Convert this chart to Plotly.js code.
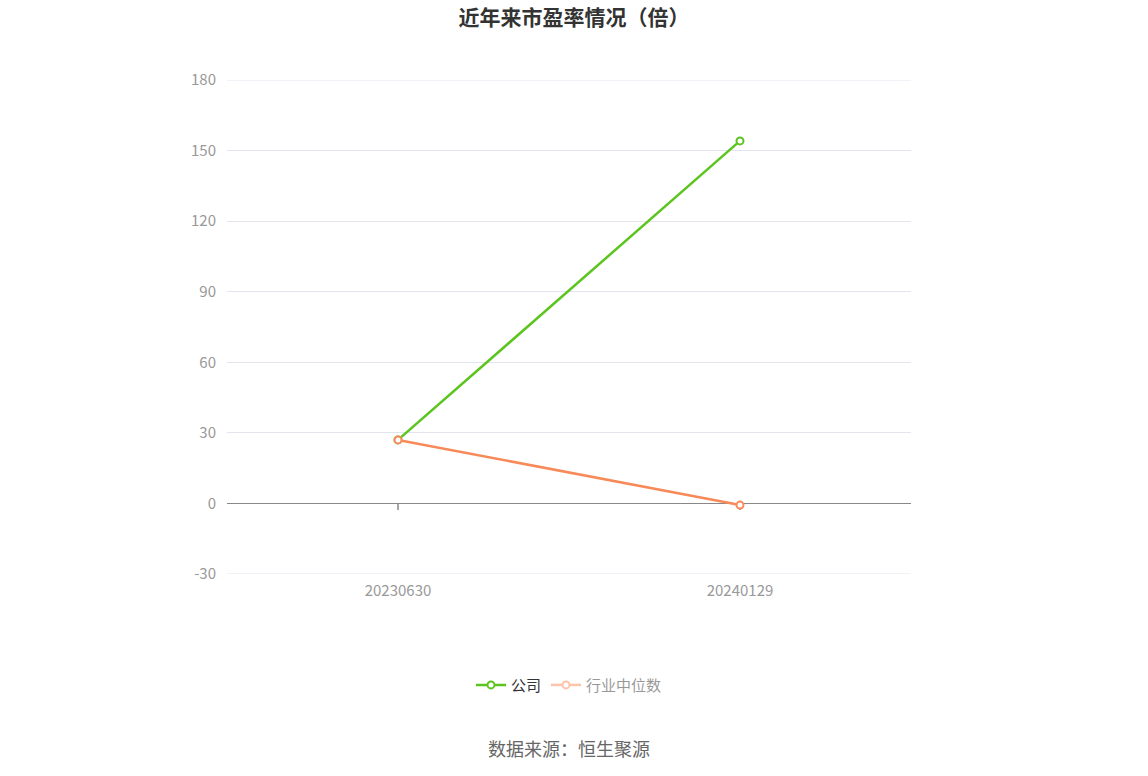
<!DOCTYPE html>
<html>
<head>
<meta charset="utf-8">
<script src="https://cdn.plot.ly/plotly-3.0.1.min.js"></script>
<style>
  body { margin: 0; background: #fff; }
  #chart { width: 1148px; height: 776px; }
</style>
</head>
<body>
<div id="chart"></div>
<script>
const dates = ["20230630", "20240129"];
const companyPE = [27.0, 154.1];
const industryPE = [27.0, -0.7];
const yTicks = [-30, 0, 30, 60, 90, 120, 150, 180];
const yTickText = ["-30", "0", "30", "60", "90", "120", "150", "180"];
const yMin = -30;
const yMax = 180;

const green = "#5cc41f";
const orange = "#f88a59";
const gridColor = "#e2e5ef";
const font = "'Noto Sans CJK SC', 'Noto Sans', sans-serif";

function lineTrace(name, y, color, extra) {
  return Object.assign({
    type: "scatter",
    mode: "lines+markers",
    name: name,
    x: dates,
    y: y,
    line: { color: color, width: 2.5 },
    marker: { symbol: "circle", size: 7, color: "#fff", line: { color: color, width: 2 } },
    hoverinfo: "x+y+name",
  }, extra || {});
}

const traces = [
  lineTrace("公司", companyPE, green, { legendrank: 1 }),
  lineTrace("行业中位数", industryPE, orange, { showlegend: false }),
  // faded legend entry, as in the original
  lineTrace("行业中位数", industryPE, orange, { visible: "legendonly", legendrank: 2 }),
];

// small tick marks hanging under the zero line at each category
// (numeric-looking category names get read as indices, so pass the index)
const tickShapes = dates.map((d, i) => ({
  type: "line",
  xref: "x",
  yref: "y",
  x0: i,
  x1: i,
  y0: 0,
  y1: -2.8,
  line: { color: "#777", width: 1.3 },
  layer: "below",
}));

// grid lines on the range edges, which plotly leaves out
const edgeGrid = [yMin, yMax].map((v) => ({
  type: "line",
  xref: "paper",
  yref: "y",
  x0: 0,
  x1: 1,
  y0: v,
  y1: v,
  line: { color: gridColor, width: 1 },
  layer: "below",
}));

const layout = {
  width: 1148,
  height: 776,
  margin: { l: 227, r: 237, t: 80, b: 202 },
  paper_bgcolor: "#fff",
  plot_bgcolor: "#fff",
  font: { family: font },
  title: {
    text: "<b>近年来市盈率情况（倍）</b>",
    x: 0.5,
    xanchor: "center",
    y: 0.977,
    yanchor: "middle",
    font: { size: 21, color: "#333", family: font },
  },
  xaxis: {
    type: "category",
    range: [-0.5, 1.5],
    showgrid: false,
    zeroline: false,
    showline: false,
    ticks: "",
    tickfont: { size: 15, color: "#999" },
    ticklabelstandoff: 6,
  },
  yaxis: {
    range: [yMin, yMax],
    tickvals: yTicks,
    ticktext: yTickText,
    showgrid: true,
    gridcolor: gridColor,
    gridwidth: 1,
    zeroline: true,
    zerolinecolor: "#888",
    zerolinewidth: 1.5,
    showline: false,
    ticks: "",
    tickfont: { size: 15, color: "#999" },
    ticklabelstandoff: 10,
  },
  showlegend: true,
  legend: {
    orientation: "h",
    x: 0.5,
    xanchor: "center",
    y: -0.225,
    yanchor: "middle",
    font: { size: 15, color: "#333", family: font },
    itemwidth: 30,
  },
  shapes: edgeGrid.concat(tickShapes),
  annotations: [
    {
      text: "数据来源：恒生聚源",
      xref: "paper",
      yref: "paper",
      x: 0.5,
      xanchor: "center",
      y: -0.352,
      yanchor: "middle",
      showarrow: false,
      font: { size: 18, color: "#666", family: font },
    },
  ],
};

Plotly.newPlot("chart", traces, layout, { displayModeBar: false, staticPlot: true });
</script>
</body>
</html>
